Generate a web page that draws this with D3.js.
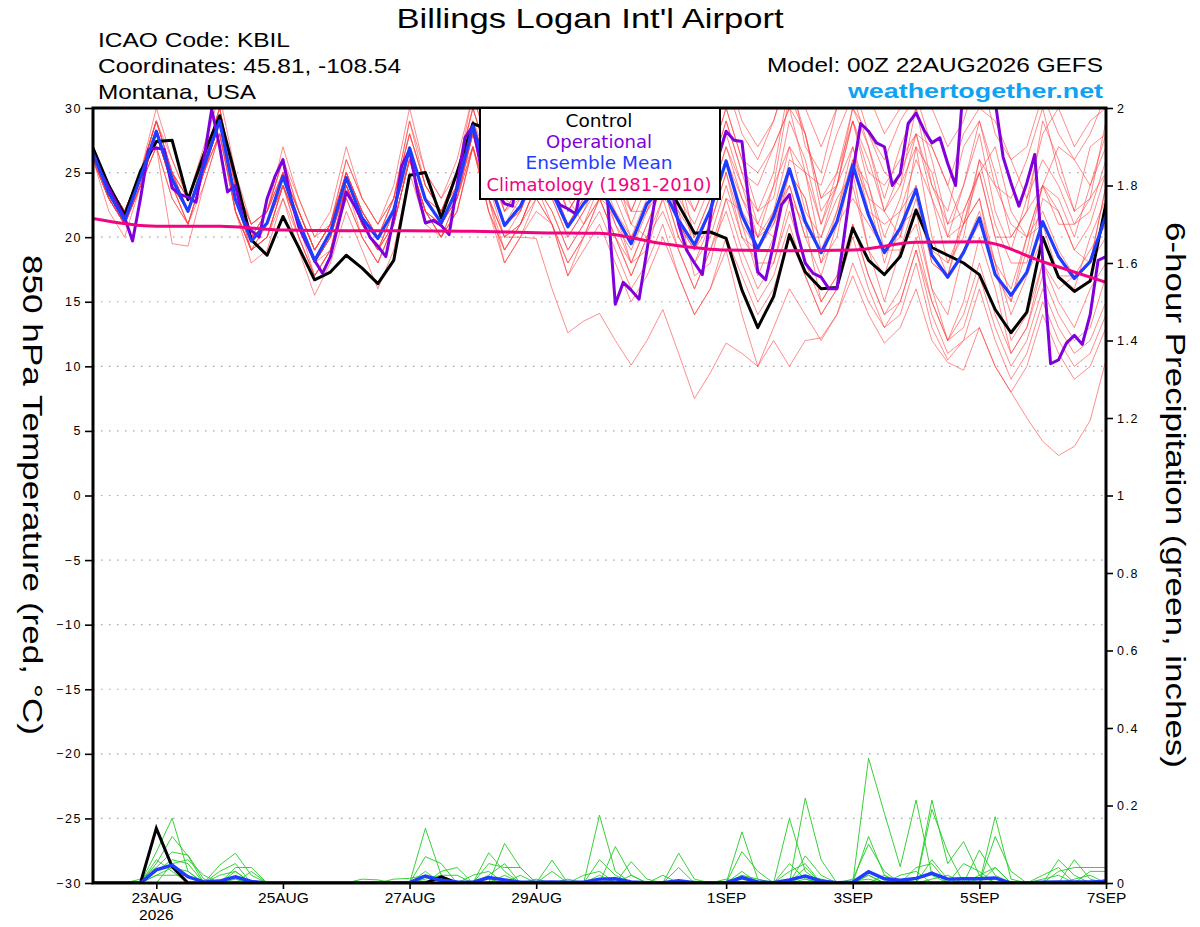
<!DOCTYPE html>
<html>
<head>
<meta charset="utf-8">
<script src="https://cdn.jsdelivr.net/npm/d3@7"></script>
<style>
  body { margin: 0; background: #fff; }
  svg { display: block; }
  text { font-family: "Liberation Sans", Arial, Helvetica, sans-serif; }
</style>
</head>
<body>
<div id="chart"></div>
<script>
// ---- data ----
// run start, 6-hourly ensemble steps, 3-hourly operational, daily climatology
var runStart = Date.UTC(2026, 7, 22, 0);

// control run, 850 hPa temperature (C), every 6 h
var controlTemp = [26.9, 24.0, 21.7, 25.1, 27.4, 27.5, 22.9, 26.4, 29.4, 24.7,
  19.8, 18.6, 21.6, 19.2, 16.7, 17.3, 18.6, 17.6, 16.4, 18.2,
  24.8, 25.0, 21.5, 25.0, 28.8, 28.3, 25.5, 25.0, 27.5, 26.5,
  24.5, 25.5, 27.0, 25.5, 24.0, 25.0, 24.5, 22.5, 20.3, 20.4,
  19.9, 15.9, 13.0, 15.4, 20.2, 17.3, 16.0, 16.1, 20.7, 18.2,
  17.1, 18.5, 22.1, 19.2, 18.6, 18.0, 17.1, 14.4, 12.6, 14.2,
  20.0, 16.9, 15.8, 16.6, 22.6];

// ensemble mean, every 6 h
var meanTemp = [26.5, 23.4, 21.3, 24.6, 28.2, 24.5, 22.0, 25.5, 29.0, 22.9,
  19.7, 21.1, 24.7, 21.2, 18.2, 20.4, 24.6, 21.5, 19.9, 22.1,
  26.9, 22.9, 21.1, 23.7, 28.6, 24.5, 20.9, 22.4, 25.0, 23.5,
  20.8, 22.6, 24.0, 21.7, 19.5, 22.6, 23.8, 21.3, 19.4, 22.1,
  25.9, 21.7, 19.1, 21.6, 25.3, 21.2, 18.8, 21.2, 25.6, 21.7,
  18.8, 20.7, 23.7, 18.6, 16.9, 18.8, 21.5, 17.1, 15.5, 17.3,
  21.2, 18.5, 16.8, 18.1, 21.7];

// operational run, every 3 h
var operationalTemp = [26.5, 25.0, 23.8, 22.6, 21.5, 19.7, 23.0, 26.75,
  26.9, 26.8, 23.8, 23.3, 23.1, 22.7, 26.0, 29.9,
  27.0, 23.5, 24.0, 21.3, 20.5, 20.0, 23.0, 24.7,
  26.0, 23.0, 20.8, 19.5, 18.2, 17.2, 18.5, 21.0,
  23.5, 22.5, 21.3, 20.0, 19.3, 18.5, 21.5, 25.5,
  26.75, 23.5, 21.1, 21.3, 20.9, 20.2, 24.0, 27.7,
  28.6, 25.5, 24.5, 23.5, 22.6, 22.4, 26.0, 31.0,
  30.5, 24.5, 23.5, 22.5, 22.2, 21.8, 25.0, 30.8,
  30.4, 23.0, 14.8, 16.5, 15.9, 15.2, 19.0, 22.9,
  25.0, 24.0, 21.0, 19.0, 18.0, 17.1, 21.5, 26.2,
  28.2, 27.5, 27.4, 22.0, 17.3, 16.7, 19.5, 22.5,
  23.3, 20.3, 18.0, 17.2, 16.9, 16.0, 16.0, 20.5,
  25.0, 28.8, 28.2, 27.3, 27.0, 24.0, 24.9, 28.8,
  29.6, 28.3, 27.3, 27.7, 25.7, 24.0, 32.0, 34.0,
  34.5, 33.0, 30.5, 26.2, 24.2, 22.4, 24.2, 26.4,
  18.2, 10.2, 10.5, 11.8, 12.4, 11.7, 14.0, 18.2,
  18.5];

// climatology 1981-2010, daily
var climTemp = [21.45, 20.85, 20.85, 20.55, 20.5, 20.5, 20.45, 20.35, 20.3,
  19.5, 19.0, 18.95, 19.0, 19.6, 19.65, 18.1, 16.5];

// ensemble members, every 6 h
var memberTemps = [
  [27,24,22,25,29,25,23,26,30,24,20,22,25,22,19,21,25,22,20,23,28, 24,22,25,30,26,22,24,27,25,22,24,27,24,22,25,27,24,22,25,29, 25,24,27,30,28,23,24,29,26,22,25,28,27,24,21,25,27,22,20,24,27,26,24,28],
  [26,23,21,24,28,24,21,25,28,22,19,20,24,20,17,19,23,20,18,21,26, 22,20,23,28,23,19,21,24,22,19,21,23,20,17,20,22,19,16,19,23, 19,16,18,22,18,15,17,21,17,14,15,19,14,11,12,13,10,8,6,4.2,3.1,3.8,5.8,10.5],
  [27,23,21,25,29,25,22,26,29,23,20,21,25,21,18,20,24,21,19,22,27, 23,21,23,27,23,20,20,19.9,16,12.6,13.5,14.1,12,10.1,12,14.4,11,7.5,9.5,11.8, 11,10,13,16,14,12,14,18,15,13,15,19,15,12,13,17,13,10,12,16,13,11,12,15],
  [26,23,21,24,28,24,22,25,29,23,20,21,25,21,18,20,25,22,20,22,27, 23,21,24,29,25,21,23,26,24,21,23,25,22,20,23,25,22,20,23,27, 23,21,20,26,25,19,22,27,23,22,20,24,18,17,22,25,20,15,19,24,22,19,21,25],
  [27,24,22,25,30,26,23,27,31,25,21,22,26,23,20,22,27,23,21,24,30, 25,23,26,31,27,23,25,29,27,24,26,30,27,24,27,30,27,25,28,32, 28,26,29,33,27,25,30,32,28,26,29,31,27,24,28,30,29,26,23,28,30,27,29,30],
  [26,22,20,24,27,23,21,24,28,22,18,19,23,19,15.5,18,22,19,16,19,25, 21,20,22,27,22,18,20,23,21,18,20,23,20,17,20,23,19,16,19,22, 18,15,17,21,17,14,16,20,16,13,14,18,13,10.5,12,16,12,9,11,15,12,10,11,14],
  [26,23,21,24,27,19.5,19.3,24,28,22,19,20,24,20,17,19,24,20,18,21,26, 22,21,23,28,24,21,22,25,23,20,22,25,21,19,22,25,21,19,22,26, 21,19,22,24,20,20,23,25,19,17,21,22,16,14,19,22,18,12,14,18,16,17,19,21],
  [27,24,22,25,28,24,22,26,29,23,20,21,25,22,19,21,25,22,20,22,27, 23,22,25,28,27,23,22,27,28,24,23,28,26,22,22,26,25,20,23,27, 24,22,23,29,26,21,24,30,27,22,24,27,25,20,21,26,24,21,20,24,23,20,24,27],
  [26,23,21,24,28,24,21,25,29,22,19,20,24,21,18,19,24,21,19,21,26, 22,20,22,27,22,19,21,24,21,18,20,22,19,16,18,21,17,14,16,19, 14,10,12,10,12,12.2,14,17,14,11.8,13,16,12,10.3,9.7,13,10,8,10,14,11,9,10,13],
  [27,24,22,25,29,26,23,26,30,24,21,22,26,22,19,21,26,23,21,23,29, 24,22,25,30,26,23,24,28,26,23,25,28,25,23,26,29,26,23,26,30, 26,25,27,30,25,24,28,31,27,23,27,30,24,22,27,29,24,23,26,30,25,22,27,28],
  [26,23,22,25,28,25,22,25,29,23,20,21,25,21,18,20,24,21,19,22,27, 23,21,23,28,24,20,22,25,23,20,22,24,21,18,21,24,20,18,21,25, 21,17,20,25,23,18,20,26,23,18,22,24,19,18,21,23,17,15,20,21,17,16,20,23],
  [27,24,22,25,29,25,23,26,30,24,21,22,27,23,20,21,26,23,21,23,29, 25,23,25,31,27,24,26,30,28,25,27,31,28,25,28,31,28,26,29,33, 29,27,29,33,30,27,30,34,31,28,30,34,30,27,29,33,28,26,27,31,28,26,28,31],
  [26,23,21,24,28,24,22,25,29,23,19,21,24,21,18,20,24,21,20,22,27, 23,21,24,28,24,21,22,25,24,21,23,25,23,20,22,24,21,19,21,25, 20,18,18,23,21,15,17,24,19,15,19,21,16,12,15,20,16,11,13,18,15,13,16,18],
  [27,23,21,25,28,24,22,25,29,22,19,21,24,21,18,20,24,21,19,22,26, 22,21,24,27,22,19,21,24,26,23,21,24,25,21,20,25,24,19,22,26, 23,20,24,27,22,20,24,27,22,21,22,26,23,18,20,26,21,18,18,23,22,19,18,24],
  [26,23,21,24,27,23,21,25,28,22,19,20,23,20,17,19,23,20,18,21,26, 22,20,22,27,23,20,21,24,22,19,21,23,20,18,21,24,20,18,20,24, 20,19,21,24,20,17,21,23,21,19,19,23,18,17,19,21,18,14,17,20,17,17,18,20],
  [27,24,22,25,29,25,22,26,30,24,20,22,26,22,19,21,25,22,20,23,28, 24,22,24,29,26,22,24,28,26,22,24,28,25,22,25,28,25,22,25,29, 25,21,24,31,28,22,24,29,25,24,26,28,23,20,24,28,22,19,23,26,24,21,22,26],
  [26,23,21,24,28,24,22,25,28,23,20,21,24,21,18,20,24,21,19,21,26, 22,21,23,27,23,20,21,23,21,17,19,21,18,15,17,20,17,14,16,20, 17,14,16,20,17,14,16,21,17,14,16,20,15,12,14,18,14,11,13,17,14,12,13,17],
  [27,24,22,25,28,25,22,26,29,23,20,22,25,22,19,21,25,22,20,22,27, 23,22,24,29,25,22,23,27,25,22,24,27,24,21,24,27,23,21,24,28, 24,20,22,27,25,21,25,29,24,20,23,28,24,21,22,25,20,20,22,24,21,21,23,25],
  [26,23,21,24,28,24,21,25,29,23,19,20,24,21,17,19,24,21,19,21,26, 22,20,23,28,23,18,20,22,21,17,20,23,22,18,19,23,22,17,18,23, 22,20,21,25,23,18,22,26,24,19,20,27,20,17,21,23,18,16,20,22,19,17,18,24],
  [27,24,22,25,29,25,23,26,29,24,21,22,25,22,19,21,25,22,20,23,28, 24,22,25,30,26,23,24,28,26,23,25,29,26,23,26,29,25,23,26,30, 26,22,25,32,28,23,25,30,28,25,24,30,26,21,24,29,25,20,22,29,26,22,23,29]
];

// 6-hour precipitation (inches), every 6 h
var controlPrecip = [0,0,0,0,0.141, 0.042,0,0,0,0, 0,0,0,0,0, 0,0,0,0,0,
  0,0,0.016,0,0, 0,0,0,0,0, 0,0,0,0,0, 0,0,0,0,0,
  0,0,0,0,0, 0,0,0,0,0, 0,0,0,0,0, 0,0,0,0,0, 0,0,0,0,0];

var meanPrecip = [0,0,0,0,0.034, 0.046,0.016,0.003,0.005,0.016, 0.004,0,0,0,0, 0,0,0,0,0.001,
  0.001,0.018,0.007,0.003,0.002, 0.014,0.008,0.002,0.002,0.003, 0.002,0.002,0.01,0.011,0.003, 0.001,0.001,0.006,0.001,0.001,
  0.001,0.014,0.003,0.001,0.008, 0.018,0.005,0.001,0.002,0.029, 0.011,0.007,0.012,0.025,0.01, 0.011,0.011,0.013,0,0,
  0.002,0.003,0.003,0.003,0.004];

var memberPrecips = [
  [0,0,0,0,0.08, 0.167,0.03,0,0,0, 0,0,0,0,0, 0,0,0,0,0, 0,0.141,0.02,0,0, 0,0,0,0,0, 0,0,0.175,0.03,0, 0,0,0,0,0, 0,0,0,0,0, 0.219,0.06,0,0,0.322, 0.18,0.042,0.214,0.02,0, 0,0,0.171,0.01,0, 0,0,0,0,0],
  [0,0,0,0,0.05, 0.12,0.07,0,0.046,0.077, 0.02,0,0,0,0, 0,0,0,0,0, 0,0.068,0.05,0,0, 0.078,0.03,0,0,0.059, 0,0,0,0.094,0.02, 0,0,0,0,0, 0,0.132,0.01,0,0.167, 0.03,0,0,0,0.12, 0.02,0,0,0.214,0.05, 0.107,0.02,0,0,0, 0,0,0,0,0],
  [0,0,0,0.01,0.04, 0.08,0.072,0.01,0,0.04, 0.04,0,0,0,0, 0,0,0,0,0, 0,0,0.03,0.04,0, 0,0.102,0.04,0,0, 0,0,0,0,0.055, 0.01,0,0.077,0.01,0, 0,0.081,0.03,0,0, 0.07,0.02,0,0,0, 0,0,0,0.19,0.08, 0,0,0.12,0.03,0, 0,0.06,0.02,0,0],
  [0,0,0,0,0.03, 0.06,0.05,0,0.03,0.05, 0,0,0,0,0, 0,0,0,0,0, 0,0,0,0,0, 0.05,0.04,0.04,0,0.03, 0,0,0.06,0.02,0, 0,0,0.04,0,0, 0,0.03,0,0,0.03, 0.05,0,0,0.01,0.1, 0.03,0,0.04,0.05,0, 0,0.085,0.02,0,0, 0,0,0.06,0.01,0],
  [0,0,0,0,0.02, 0.04,0.03,0,0,0.03, 0,0,0,0,0, 0,0,0,0,0, 0,0.03,0,0,0, 0.02,0.05,0,0,0, 0,0.02,0.03,0,0, 0,0.02,0,0,0, 0,0.02,0.01,0,0, 0.04,0,0,0,0.02, 0,0.02,0.03,0,0, 0.05,0.03,0,0,0, 0.02,0.04,0,0.03,0.03],
  [0,0,0,0,0.06, 0.03,0,0,0.02,0.03, 0,0,0,0,0, 0,0,0,0,0.01, 0.012,0.02,0,0,0.02, 0.03,0,0,0.01,0, 0,0,0,0.01,0, 0,0,0,0,0, 0.01,0,0,0,0.05, 0.01,0,0,0.005,0.01, 0,0,0,0.06,0.01, 0,0,0.04,0,0, 0,0.03,0.04,0.04,0.04],
  [0,0,0,0,0, 0.05,0.06,0.02,0,0, 0.03,0,0,0,0, 0,0,0.01,0.008,0, 0,0.01,0.02,0.02,0, 0,0.02,0,0,0, 0.01,0,0,0,0.02, 0,0,0,0.005,0, 0,0.02,0,0,0, 0.02,0.01,0,0,0, 0.02,0,0.01,0.03,0, 0,0.02,0.04,0,0, 0.01,0.02,0,0,0.01],
  [0,0,0,0,0.02, 0.02,0.02,0,0,0.01, 0,0,0,0,0, 0,0,0,0,0, 0,0.005,0,0,0, 0.01,0,0.02,0,0, 0,0,0.02,0,0, 0,0,0,0,0, 0,0.01,0,0,0, 0.01,0,0,0,0.02, 0,0,0,0.01,0.02, 0,0.01,0.01,0,0, 0,0,0.01,0.02,0]
];

// axis ticks and labels
var tempTicks = [-30, -25, -20, -15, -10, -5, 0, 5, 10, 15, 20, 25, 30];
var precipTicks = [0, 0.2, 0.4, 0.6, 0.8, 1, 1.2, 1.4, 1.6, 1.8, 2];
var dateTickDays = [1, 3, 5, 7, 10, 12, 14, 16];
var dateTickLabels = ["23AUG", "25AUG", "27AUG", "29AUG", "1SEP", "3SEP", "5SEP", "7SEP"];
var legendLabels = ["Control", "Operational", "Ensemble Mean", "Climatology (1981-2010)"];

// ---- layout ----
var width = 1200, height = 927;
var plotL = 93, plotR = 1106, plotT = 108, plotB = 883;
var HOUR = 3600 * 1000;

var colControl = "#000000", colOper = "#8000dc", colMean = "#1f3cff",
    colClim = "#f0047f", colMember = "#ff4040", colPrecip = "#22cc22";

var svg = d3.select("#chart")
  .append("svg")
  .attr("width", width)
  .attr("height", height);

var x = d3.scaleUtc()
  .domain([new Date(runStart), new Date(runStart + 16 * 24 * HOUR)])
  .range([plotL, plotR]);
var yT = d3.scaleLinear().domain([-30, 30]).range([plotB, plotT]);
var yP = d3.scaleLinear().domain([0, 2]).range([plotB, plotT]);

function timeAt(i, stepHours) { return new Date(runStart + i * stepHours * HOUR); }

function lineFor(yScale, stepHours) {
  return d3.line()
    .x(function(d, i) { return x(timeAt(i, stepHours)); })
    .y(function(d) { return yScale(d); });
}

svg.append("clipPath").attr("id", "plotclip")
  .append("rect")
  .attr("x", plotL).attr("y", plotT)
  .attr("width", plotR - plotL).attr("height", plotB - plotT);

// dotted grid at each temperature tick
svg.append("g")
  .selectAll("line")
  .data(tempTicks.filter(function(t) { return t > -30 && t < 30; }))
  .enter()
  .append("line")
  .attr("x1", plotL).attr("x2", plotR)
  .attr("y1", function(d) { return yT(d); })
  .attr("y2", function(d) { return yT(d); })
  .attr("stroke", "#a8a8a8")
  .attr("stroke-width", 1.2)
  .attr("stroke-dasharray", "1.5,6.5");

var plot = svg.append("g").attr("clip-path", "url(#plotclip)");

// ensemble members (temperature)
plot.append("g")
  .selectAll("path")
  .data(memberTemps)
  .enter()
  .append("path")
  .attr("d", lineFor(yT, 6))
  .attr("fill", "none")
  .attr("stroke", colMember)
  .attr("stroke-opacity", 0.75)
  .attr("stroke-width", 0.8);

// ensemble members (precipitation)
plot.append("g")
  .selectAll("path")
  .data(memberPrecips)
  .enter()
  .append("path")
  .attr("d", lineFor(yP, 6))
  .attr("fill", "none")
  .attr("stroke", colPrecip)
  .attr("stroke-width", 0.9);

plot.append("path").attr("d", lineFor(yP, 6)(controlPrecip))
  .attr("fill", "none").attr("stroke", colControl).attr("stroke-width", 3);
plot.append("path").attr("d", lineFor(yP, 6)(meanPrecip))
  .attr("fill", "none").attr("stroke", colMean).attr("stroke-width", 3.4);

// main temperature lines
plot.append("path").attr("d", lineFor(yT, 6)(controlTemp))
  .attr("fill", "none").attr("stroke", colControl).attr("stroke-width", 3)
  .attr("stroke-linejoin", "round");
plot.append("path").attr("d", lineFor(yT, 3)(operationalTemp))
  .attr("fill", "none").attr("stroke", colOper).attr("stroke-width", 3)
  .attr("stroke-linejoin", "round");
plot.append("path").attr("d", lineFor(yT, 6)(meanTemp))
  .attr("fill", "none").attr("stroke", colMean).attr("stroke-width", 3.2)
  .attr("stroke-linejoin", "round");
plot.append("path")
  .attr("d", lineFor(yT, 24).curve(d3.curveMonotoneX)(climTemp))
  .attr("fill", "none").attr("stroke", colClim).attr("stroke-width", 3);

// frame
svg.append("rect")
  .attr("x", plotL).attr("y", plotT)
  .attr("width", plotR - plotL).attr("height", plotB - plotT)
  .attr("fill", "none")
  .attr("stroke", "#000")
  .attr("stroke-width", 3);

// axes
var axisLeft = svg.append("g")
  .attr("transform", "translate(" + plotL + ",0)")
  .call(d3.axisLeft(yT).tickValues(tempTicks).tickSize(8).tickPadding(3));
var axisRight = svg.append("g")
  .attr("transform", "translate(" + plotR + ",0)")
  .call(d3.axisRight(yP).tickValues(precipTicks).tickSize(7).tickPadding(4)
        .tickFormat(d3.format("~g")));
var dateTicks = dateTickDays.map(function(d) { return timeAt(d, 24); });
var axisBottom = svg.append("g")
  .attr("transform", "translate(0," + plotB + ")")
  .call(d3.axisBottom(x).tickValues(dateTicks).tickSize(6).tickPadding(3)
        .tickFormat(function(d, i) { return dateTickLabels[i]; }));

[axisLeft, axisRight, axisBottom].forEach(function(a) {
  a.select(".domain").remove();
  a.selectAll(".tick line").attr("stroke", "#000").attr("stroke-width", 1.6);
  a.selectAll("text").attr("fill", "#000")
    .style("font-family", "'Liberation Sans', Arial, sans-serif");
});
axisLeft.selectAll("text").style("font-size", "12.5px").style("letter-spacing", "1.6px");
axisRight.selectAll("text").style("font-size", "12.5px").style("letter-spacing", "1.6px");
axisBottom.selectAll("text").style("font-size", "15.5px");

svg.append("text")
  .attr("x", x(dateTicks[0])).attr("y", 920)
  .attr("text-anchor", "middle")
  .style("font-size", "15.5px")
  .text("2026");

// axis titles
svg.append("text")
  .attr("transform", "translate(23,495) rotate(90)")
  .attr("text-anchor", "middle")
  .attr("textLength", 480).attr("lengthAdjust", "spacingAndGlyphs")
  .style("font-size", "28px")
  .text("850 hPa Temperature (red, °C)");
svg.append("text")
  .attr("transform", "translate(1166,495) rotate(90)")
  .attr("text-anchor", "middle")
  .attr("textLength", 546).attr("lengthAdjust", "spacingAndGlyphs")
  .style("font-size", "28px")
  .text("6-hour Precipitation (green, inches)");

// header
function header(txt, xPos, yPos, len, anchor, size, weight, color) {
  svg.append("text")
    .attr("x", xPos).attr("y", yPos)
    .attr("text-anchor", anchor)
    .attr("textLength", len).attr("lengthAdjust", "spacingAndGlyphs")
    .style("font-size", size + "px")
    .style("font-weight", weight)
    .attr("fill", color)
    .text(txt);
}
header("Billings Logan Int'l Airport", 590, 27.5, 387, "middle", 28, "normal", "#000");
header("ICAO Code: KBIL", 98, 47, 192, "start", 21, "normal", "#000");
header("Coordinates: 45.81, -108.54", 98, 72.5, 303, "start", 21, "normal", "#000");
header("Montana, USA", 98, 99, 158, "start", 21, "normal", "#000");
header("Model: 00Z 22AUG2026 GEFS", 1103, 72, 336, "end", 21, "normal", "#000");
header("weathertogether.net", 1103, 97.5, 255, "end", 21, "bold", "#0ea2f4");

// legend box
var legend = svg.append("g");
legend.append("rect")
  .attr("x", 480).attr("y", plotT)
  .attr("width", 240).attr("height", 91)
  .attr("fill", "#fff")
  .attr("stroke", "#000")
  .attr("stroke-width", 2);
var legendColors = [colControl, colOper, colMean, colClim];
var legendLens = [67, 106, 147, 225];
var legendBase = [126.5, 147.5, 169, 191];
legend.selectAll("text.lg")
  .data(legendLabels)
  .enter()
  .append("text")
  .attr("class", "lg")
  .attr("x", 599)
  .attr("y", function(d, i) { return legendBase[i]; })
  .attr("text-anchor", "middle")
  .attr("textLength", function(d, i) { return legendLens[i]; })
  .attr("lengthAdjust", "spacingAndGlyphs")
  .attr("fill", function(d, i) { return legendColors[i]; })
  .style("font-family", "'DejaVu Sans', Verdana, sans-serif")
  .style("font-size", "17.5px")
  .text(function(d) { return d; });
</script>
</body>
</html>
